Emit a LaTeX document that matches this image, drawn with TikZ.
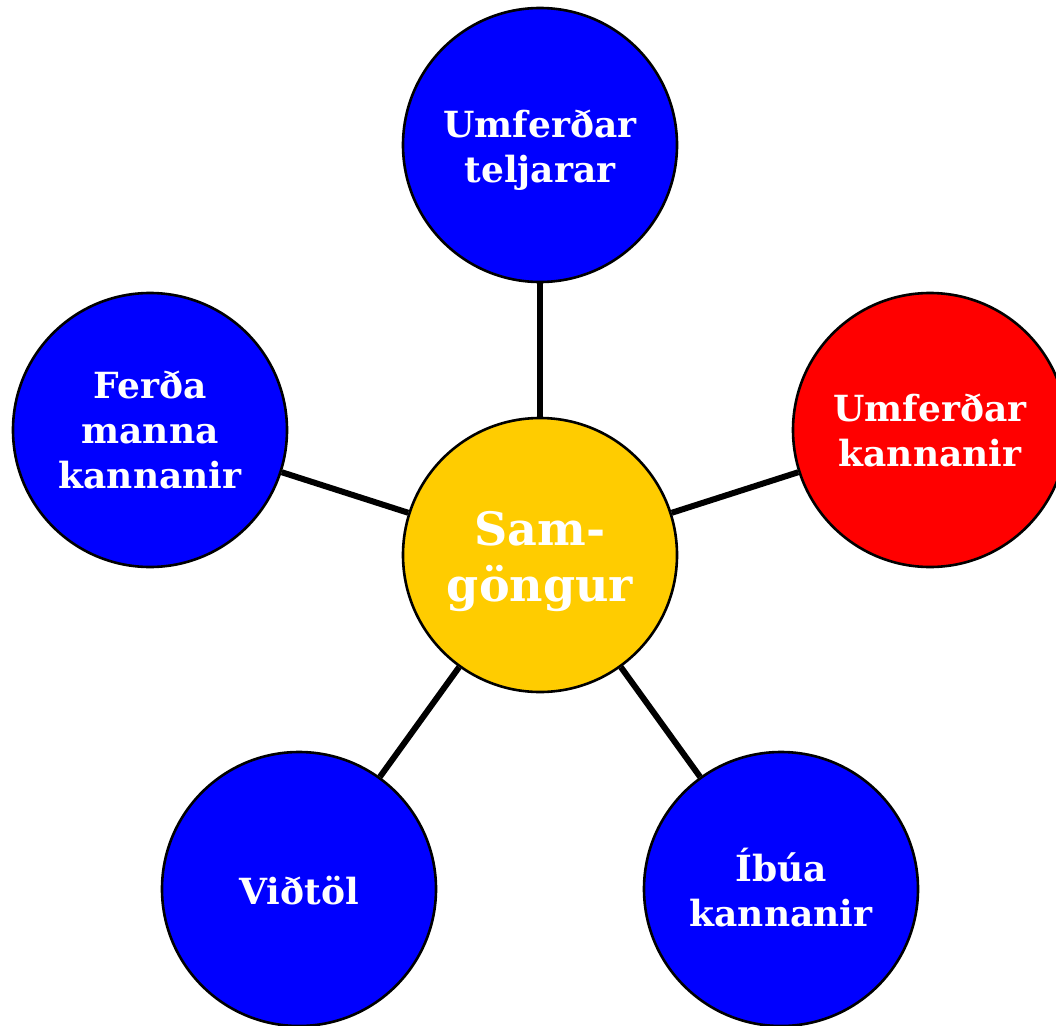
\documentclass[tikz,border=0pt]{standalone}
\usepackage{fontspec}
\setmainfont{DejaVu Serif}
\definecolor{bblue}{HTML}{0000FF}
\definecolor{bred}{HTML}{FF0000}
\definecolor{byellow}{HTML}{FFCC00}
\tikzset{
  bubble/.style={circle, draw=black, line width=2.6pt, minimum size=274pt, inner sep=0pt},
  txt/.style={text=white, align=center, font=\bfseries\fontsize{36}{45}\selectfont},
  bigtxt/.style={text=white, align=center, font=\bfseries\fontsize{46}{56}\selectfont},
  spoke/.style={draw=black, line width=6pt}
}
\begin{document}
\begin{tikzpicture}[x=1pt,y=-1pt]
\useasboundingbox (0,0) rectangle (1056,1025);
\clip (0,0) rectangle (1056,1025);
\node[bubble, fill=byellow, label={[bigtxt, yshift=-7pt]center:Sam-\\göngur}] (c) at (540,555) {};
\node[bubble, fill=bblue, label={[txt, yshift=-5pt]center:Umferðar\\teljarar}] (t) at (540,145) {};
\node[bubble, fill=bred, label={[txt]center:Umferðar\\kannanir}] (r) at (930,430) {};
\node[bubble, fill=bblue, label={[txt]center:Ferða\\manna\\kannanir}] (l) at (150,430) {};
\node[bubble, fill=bblue, label={[txt, yshift=-2pt]center:Viðtöl}] (bl) at (299,889) {};
\node[bubble, fill=bblue, label={[txt, yshift=1pt]center:Íbúa\\kannanir}] (br) at (781,889) {};
\draw[spoke] (c) -- (t);
\draw[spoke] (c) -- (r);
\draw[spoke] (c) -- (l);
\draw[spoke] (c) -- (bl);
\draw[spoke] (c) -- (br);
\end{tikzpicture}
\end{document}
